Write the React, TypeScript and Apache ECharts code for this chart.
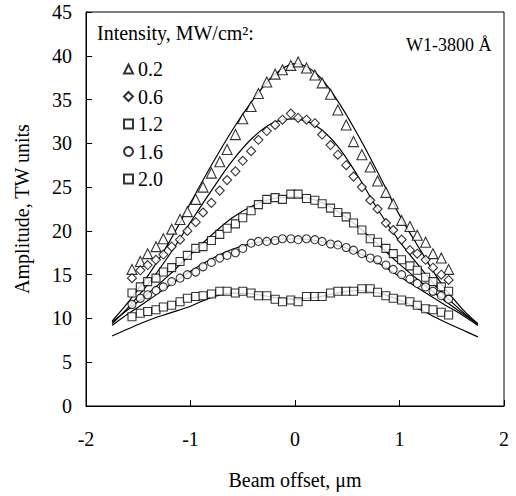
import React, { useEffect, useRef } from "react";
import * as echarts from "echarts";

// Measured beam offsets (µm) for the data points
const xPoints = [
  -1.56, -1.48, -1.41, -1.33, -1.26, -1.18, -1.1, -1.03, -0.95, -0.88, -0.8,
  -0.72, -0.65, -0.57, -0.5, -0.42, -0.35, -0.27, -0.19, -0.12, -0.04, 0.03,
  0.11, 0.19, 0.26, 0.34, 0.41, 0.49, 0.56, 0.64, 0.72, 0.79, 0.87, 0.94, 1.02,
  1.1, 1.17, 1.25, 1.32, 1.4, 1.47,
];

const amp02 = [
  15.6, 16.5, 17.4, 18.2, 19.1, 20.2, 21.3, 22.2, 23.6, 25.0, 26.6, 27.9, 29.3,
  31.0, 32.8, 34.2, 35.7, 37.0, 37.9, 38.4, 38.9, 39.3, 38.6, 37.8, 36.9, 35.6,
  33.8, 32.1, 30.2, 28.7, 27.3, 25.7, 24.4, 23.1, 21.2, 20.5, 19.5, 18.7, 17.4,
  16.9, 15.6,
];
const amp06 = [
  14.6, 15.5, 16.1, 16.7, 17.3, 18.2, 19.0, 20.0, 21.0, 22.1, 23.2, 24.6, 25.8,
  26.8, 28.0, 29.1, 30.4, 31.4, 32.1, 32.7, 33.4, 32.9, 32.7, 32.3, 31.0, 29.8,
  28.7, 27.5, 26.2, 25.0, 23.5, 22.5, 20.9, 20.1, 19.0, 17.8, 17.4, 16.7, 15.8,
  15.0, 14.4,
];
const amp12 = [
  12.9, 13.6, 14.2, 14.6, 15.3, 15.8, 16.5, 17.2, 18.0, 18.2, 18.9, 19.6, 20.3,
  20.8, 21.5, 22.3, 23.0, 23.6, 23.8, 23.6, 24.2, 24.2, 23.7, 23.5, 23.1, 22.6,
  22.1, 21.6, 20.9, 20.1, 19.1, 18.7, 18.0, 17.4, 16.7, 16.0, 15.5, 14.7, 14.2,
  13.6, 13.1,
];
const amp16 = [
  11.6, 12.3, 12.7, 13.2, 13.6, 14.2, 14.6, 15.0, 15.3, 15.9, 16.4, 16.9, 17.2,
  17.5, 18.0, 18.6, 18.8, 18.8, 18.9, 19.1, 19.1, 19.0, 19.1, 19.0, 18.8, 18.5,
  18.4, 18.1, 17.8, 17.4, 16.9, 16.7, 16.1, 15.6, 15.0, 14.5, 14.0, 13.6, 13.1,
  12.6, 12.2,
];
const amp20 = [
  10.2, 10.6, 10.8, 11.0, 11.3, 11.5, 11.9, 12.3, 12.5, 12.6, 12.8, 13.1, 13.1,
  12.9, 13.1, 12.9, 12.6, 12.6, 12.2, 11.9, 12.1, 11.9, 12.5, 12.5, 12.5, 12.9,
  13.1, 13.1, 13.1, 13.4, 13.4, 13.0, 12.6, 12.3, 12.1, 11.9, 11.5, 11.1, 11.0,
  10.7, 10.4,
];

// Calculated (fit) curves
const fitX = [
  -1.75, -1.6, -1.4, -1.2, -1.0, -0.8, -0.6, -0.4, -0.2, 0, 0.2, 0.4, 0.6, 0.8,
  1.0, 1.2, 1.4, 1.6, 1.75,
];
const fit02 = [9.7, 11.8, 15.0, 18.8, 23.2, 27.5, 31.5, 35.0, 37.8, 39.1, 38.0, 35.0, 31.0, 26.5, 21.8, 17.8, 14.0, 11.1, 9.4];
const fit06 = [9.4, 11.2, 14.0, 17.3, 21.0, 24.6, 28.0, 30.7, 32.4, 32.8, 32.0, 29.8, 26.3, 22.3, 18.8, 15.8, 13.0, 10.8, 9.3];
const fit12 = [9.6, 11.0, 12.9, 15.0, 17.3, 19.5, 21.5, 22.9, 23.7, 23.9, 23.5, 22.3, 20.5, 18.4, 16.2, 14.2, 12.3, 10.6, 9.4];
const fit16 = [9.2, 10.5, 12.1, 13.8, 15.4, 16.8, 17.9, 18.6, 19.0, 19.1, 18.9, 18.4, 17.5, 16.3, 14.8, 13.3, 11.8, 10.4, 9.2];
const fit20 = [8.0, 8.8, 9.8, 10.6, 11.4, 12.4, 12.9, 12.8, 12.4, 12.2, 12.4, 12.9, 13.2, 12.9, 12.1, 11.0, 9.8, 8.7, 7.9];

const seriesNames = ["0.2", "0.6", "1.2", "1.6", "2.0"];
const seriesValues = [amp02, amp06, amp12, amp16, amp20];
const fitValues = [fit02, fit06, fit12, fit16, fit20];
const seriesSymbols = ["triangle", "diamond", "rect", "circle", "rect"];
const symbolSizes = [10, 9, 8, 8, 8];

const legendTitle = "Intensity, MW/cm²:";
const sampleLabel = "W1-3800 Å";
const xAxisTitle = "Beam offset, μm";
const yAxisTitle = "Amplitude, TW units";

const FONT = "'Liberation Serif', 'Times New Roman', serif";

export default function App() {
  const ref = useRef<HTMLDivElement>(null);

  useEffect(() => {
    if (!ref.current) return;
    const chart = echarts.init(ref.current, undefined, { renderer: "svg" });

    const scatterSeries = seriesNames.map((name, i) => ({
      name,
      type: "scatter",
      symbol: seriesSymbols[i],
      symbolSize: symbolSizes[i],
      data: xPoints.map((x, j) => [x, seriesValues[i][j]]),
      itemStyle: { color: "#ffffff", borderColor: "#000000", borderWidth: 1.1 },
      z: 3,
    }));

    const fitSeries = fitValues.map((vals, i) => ({
      name: "fit " + seriesNames[i],
      type: "line",
      symbol: "none",
      smooth: 0.35,
      data: fitX.map((x, j) => [x, vals[j]]),
      lineStyle: { color: "#000000", width: 1.2 },
      z: 2,
    }));

    chart.setOption({
      animation: false,
      backgroundColor: "#ffffff",
      textStyle: { fontFamily: FONT, color: "#000" },
      title: [
        {
          text: legendTitle,
          left: 97,
          top: 23,
          padding: 0,
          textStyle: { fontFamily: FONT, fontSize: 20, fontWeight: "normal", color: "#000" },
        },
        {
          text: sampleLabel,
          left: 406,
          top: 36,
          padding: 0,
          textStyle: { fontFamily: FONT, fontSize: 18, fontWeight: "normal", color: "#000" },
        },
      ],
      legend: {
        data: seriesNames,
        orient: "vertical",
        left: 118,
        top: 54,
        itemWidth: 9,
        itemHeight: 9,
        itemGap: 7.5,
        textStyle: { fontFamily: FONT, fontSize: 20, color: "#000" },
      },
      grid: {
        left: 86,
        right: 12,
        top: 12,
        bottom: 90,
        show: true,
        borderColor: "#000",
        borderWidth: 1,
        containLabel: false,
      },
      xAxis: {
        type: "value",
        min: -2,
        max: 2,
        interval: 1,
        name: xAxisTitle,
        nameLocation: "middle",
        nameGap: 64,
        nameTextStyle: { fontFamily: FONT, fontSize: 20, color: "#000" },
        axisLine: { show: true, onZero: false, lineStyle: { color: "#000", width: 1 } },
        axisTick: { show: true, inside: true, length: 6, lineStyle: { color: "#000" } },
        axisLabel: { margin: 23, fontFamily: FONT, fontSize: 20, color: "#000" },
        splitLine: { show: false },
      },
      yAxis: {
        type: "value",
        min: 0,
        max: 45,
        interval: 5,
        name: yAxisTitle,
        nameLocation: "middle",
        nameRotate: 90,
        nameGap: 54,
        nameTextStyle: { fontFamily: FONT, fontSize: 20, color: "#000" },
        axisLine: { show: true, onZero: false, lineStyle: { color: "#000", width: 1 } },
        axisTick: { show: true, inside: true, length: 6, lineStyle: { color: "#000" } },
        axisLabel: { margin: 14, fontFamily: FONT, fontSize: 20, color: "#000" },
        splitLine: { show: false },
      },
      series: [...fitSeries, ...scatterSeries],
    });

    return () => chart.dispose();
  }, []);

  return (
    <div
      ref={ref}
      style={{ position: "absolute", left: 0, top: 0, width: 516, height: 496 }}
    />
  );
}
